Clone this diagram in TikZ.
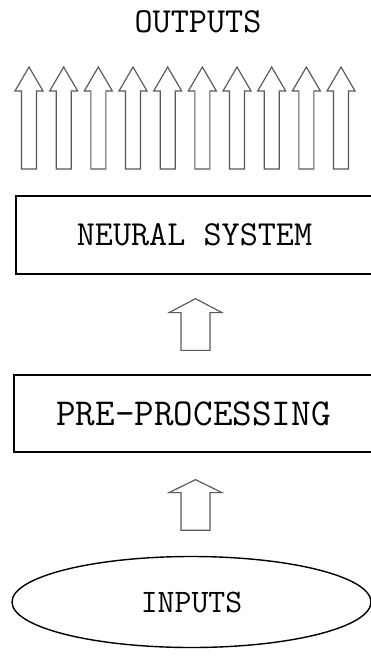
\documentclass[tikz,border=0pt]{standalone}
\usepackage{fontspec}
\usetikzlibrary{calc}
\usetikzlibrary{shapes.geometric}
\tikzset{box/.style={draw,line width=1.1pt,inner sep=0pt}}
\tikzset{t/.style={font=\ttfamily\fontsize{30}{30}\selectfont}}
\tikzset{arr/.style={draw=black!65,line width=1pt,line join=miter}}

% hollow block arrow: bottom, tip, shaft half width, head half width, head length
\newcommand{\fatarrow}[5]{%
  \draw[arr] ($(#1)+(-#3,0)$) -- ($(#2)+(-#3,#5)$) -- ($(#2)+(-#4,#5)$) -- (#2)
    -- ($(#2)+(#4,#5)$) -- ($(#2)+(#3,#5)$) -- ($(#1)+(#3,0)$) -- cycle;}

\begin{document}
\begin{tikzpicture}[x=0.03cm,y=-0.03cm]
  \useasboundingbox (0,0) rectangle (371,658);
  \node[t] (out) at (198,22) {OUTPUTS};
  \node[box,t,minimum width=10.71cm,minimum height=2.34cm] (neural) at (194.5,235) {NEURAL SYSTEM};
  \node[box,t,minimum width=10.77cm,minimum height=2.31cm,font=\ttfamily\fontsize{32.5}{32.5}\selectfont] (prep) at (193.5,413.5) {PRE-PROCESSING};
  \node[box,t,ellipse,line width=1.2pt,minimum width=10.77cm,minimum height=2.73cm,font=\ttfamily\fontsize{28}{28}\selectfont] (inputs) at (191.5,602) {INPUTS};
  % outputs
  \foreach \i in {0,...,9} {
    \coordinate (ob\i) at ({29+34.67*\i},169);
    \coordinate (ot\i) at ({29+34.67*\i},67);
    \fatarrow{ob\i}{ot\i}{7.5}{14}{24}
  }
  % between the blocks
  \coordinate (pb) at ($(prep.north)+(2,-24)$);
  \coordinate (pt) at ($(neural.south)+(1,24)$);
  \fatarrow{pb}{pt}{14.5}{26.5}{14}
  \coordinate (ib) at ($(inputs.north)+(4,-25.5)$);
  \coordinate (it) at ($(prep.south)+(2,27)$);
  \fatarrow{ib}{it}{14.5}{26.5}{13}
\end{tikzpicture}
\end{document}
